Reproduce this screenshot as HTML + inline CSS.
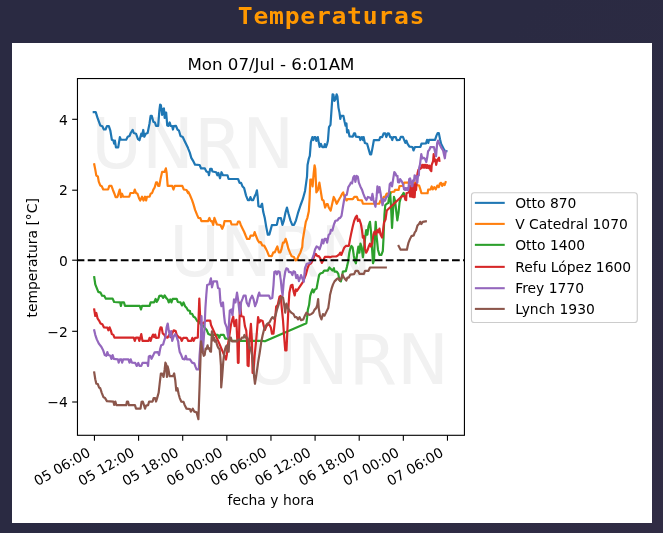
<!DOCTYPE html>
<html lang="es"><head><meta charset="utf-8"><title>Temperaturas</title>
<style>
html,body{margin:0;padding:0}
body{width:663px;height:533px;overflow:hidden;background:linear-gradient(135deg,#2a2a42 0%,#2a2a42 45%,#302c44 100%);font-family:"DejaVu Sans","Liberation Sans",sans-serif}
h1{position:absolute;left:0;top:0;width:663px;margin:0;text-align:center;font-family:"DejaVu Sans Mono","Liberation Mono",monospace;font-weight:bold;font-size:24px;line-height:32px;letter-spacing:0.7px;color:#ff9800;transform:scale(1.03,0.94);transform-origin:331.5px 24px}
#fig{position:absolute;left:12px;top:43px;width:640px;height:480px;background:#fff}
svg{display:block}
svg text{font-family:"DejaVu Sans","Liberation Sans",sans-serif;font-size:13.89px;fill:#000}
</style></head><body>
<h1>Temperaturas</h1>
<div id="fig"><svg width="640" height="480" viewBox="12 43 640 480">
<rect x="12" y="43" width="640" height="480" fill="#fff"/>
<text x="91.3" y="167.9" style="font-size:69.44px;fill:#f1f1f1">UNRN</text>
<text x="169.2" y="276.2" style="font-size:69.44px;fill:#f1f1f1">UNRN</text>
<text x="246.0" y="383.5" style="font-size:69.44px;fill:#f1f1f1">UNRN</text>
<line x1="94.45" y1="435.3" x2="94.45" y2="440.70" stroke="#000" stroke-width="1.11"/><text transform="translate(91.35,455.3) rotate(-30)" text-anchor="end">05 06:00</text>
<line x1="138.58" y1="435.3" x2="138.58" y2="440.70" stroke="#000" stroke-width="1.11"/><text transform="translate(135.48,455.3) rotate(-30)" text-anchor="end">05 12:00</text>
<line x1="182.70" y1="435.3" x2="182.70" y2="440.70" stroke="#000" stroke-width="1.11"/><text transform="translate(179.60,455.3) rotate(-30)" text-anchor="end">05 18:00</text>
<line x1="226.83" y1="435.3" x2="226.83" y2="440.70" stroke="#000" stroke-width="1.11"/><text transform="translate(223.73,455.3) rotate(-30)" text-anchor="end">06 00:00</text>
<line x1="270.96" y1="435.3" x2="270.96" y2="440.70" stroke="#000" stroke-width="1.11"/><text transform="translate(267.86,455.3) rotate(-30)" text-anchor="end">06 06:00</text>
<line x1="315.09" y1="435.3" x2="315.09" y2="440.70" stroke="#000" stroke-width="1.11"/><text transform="translate(311.99,455.3) rotate(-30)" text-anchor="end">06 12:00</text>
<line x1="359.21" y1="435.3" x2="359.21" y2="440.70" stroke="#000" stroke-width="1.11"/><text transform="translate(356.11,455.3) rotate(-30)" text-anchor="end">06 18:00</text>
<line x1="403.34" y1="435.3" x2="403.34" y2="440.70" stroke="#000" stroke-width="1.11"/><text transform="translate(400.24,455.3) rotate(-30)" text-anchor="end">07 00:00</text>
<line x1="447.47" y1="435.3" x2="447.47" y2="440.70" stroke="#000" stroke-width="1.11"/><text transform="translate(444.37,455.3) rotate(-30)" text-anchor="end">07 06:00</text>
<line x1="77.47" y1="119.30" x2="72.17" y2="119.30" stroke="#000" stroke-width="1.11"/><text x="67.75" y="124.80" text-anchor="end">4</text>
<line x1="77.47" y1="190.20" x2="72.17" y2="190.20" stroke="#000" stroke-width="1.11"/><text x="67.75" y="195.00" text-anchor="end">2</text>
<line x1="77.47" y1="260.20" x2="72.17" y2="260.20" stroke="#000" stroke-width="1.11"/><text x="67.75" y="265.70" text-anchor="end">0</text>
<line x1="77.47" y1="331.30" x2="72.17" y2="331.30" stroke="#000" stroke-width="1.11"/><text x="67.75" y="336.80" text-anchor="end">−2</text>
<line x1="77.47" y1="402.00" x2="72.17" y2="402.00" stroke="#000" stroke-width="1.11"/><text x="67.75" y="406.90" text-anchor="end">−4</text>
<clipPath id="c"><rect x="77.47" y="78.55" width="386.96" height="356.75"/></clipPath>
<g clip-path="url(#c)" fill="none" stroke-width="2.2" stroke-linejoin="round" stroke-linecap="square">
<polyline stroke="#1f77b4" points="93.77,112.17 95.73,112.17 97.54,117.90 100.26,125.44 102.37,126.20 103.88,129.52 105.54,129.52 106.89,126.20 108.85,126.20 110.36,130.72 111.87,139.77 113.38,140.53 114.13,143.54 114.89,140.53 115.94,147.32 118.21,147.32 119.86,137.06 120.92,139.77 126.20,139.77 127.71,136.76 129.52,136.00 130.72,132.99 132.68,129.97 133.74,132.99 136.00,133.74 137.96,139.02 139.47,140.23 141.28,133.74 142.04,136.00 143.24,129.97 144.30,136.76 145.81,133.74 147.62,132.99 149.58,123.18 150.63,115.94 151.84,115.94 153.35,121.67 154.86,122.43 156.06,125.90 158.17,125.90 159.38,110.36 160.14,104.63 160.89,105.08 162.10,114.89 163.15,108.85 163.91,108.40 164.66,117.90 165.41,112.62 166.17,112.62 167.22,125.44 168.43,125.90 169.64,122.43 170.69,125.90 172.20,126.20 172.96,129.52 173.71,126.20 175.97,125.90 177.48,129.52 178.99,130.72 180.50,136.00 182.76,137.06 184.72,141.28 188.04,148.07 188.30,148.85 189.80,152.62 191.31,157.90 193.57,161.67 195.08,164.69 199.61,164.99 201.12,168.46 204.89,168.46 206.40,171.48 208.21,172.23 208.96,175.25 210.17,168.91 211.67,168.91 212.43,171.48 216.20,172.23 217.41,175.25 218.46,172.99 219.97,178.27 221.48,172.23 222.99,175.25 227.51,175.25 228.57,179.02 238.07,179.02 239.58,182.79 241.09,182.79 242.59,186.56 244.10,188.07 246.06,195.61 247.87,200.14 249.38,200.14 250.44,197.12 251.64,200.14 253.15,200.14 254.66,196.37 255.87,194.10 256.92,190.33 257.68,196.37 258.43,206.17 260.69,206.92 261.90,203.91 262.07,203.74 263.27,212.04 264.78,218.07 266.29,227.12 267.80,234.66 269.31,234.66 270.36,230.89 271.87,225.16 276.85,224.86 278.36,218.07 280.92,218.07 282.43,224.86 283.94,220.33 285.44,212.79 286.95,207.51 288.46,213.54 290.42,220.33 292.23,224.86 294.04,224.86 296.00,220.33 298.27,212.04 300.53,205.25 302.79,199.22 305.05,190.92 307.01,176.59 307.54,164.94 308.75,158.91 309.80,155.89 310.86,142.32 312.37,137.04 313.27,140.05 314.33,137.04 315.38,137.04 316.29,140.81 317.80,137.04 318.85,143.07 319.61,146.84 320.81,143.82 322.32,147.14 324.13,147.14 324.89,144.13 325.94,147.14 327.15,143.82 327.90,140.81 328.96,127.23 330.47,124.97 331.67,107.62 332.58,94.35 333.48,94.80 334.39,100.84 335.44,99.33 336.65,94.35 337.41,96.31 338.46,107.62 339.52,112.90 340.27,118.94 341.03,115.92 343.44,115.92 344.49,121.20 345.55,125.72 346.46,123.46 347.06,132.51 348.27,130.25 349.47,136.28 352.79,136.58 354.00,133.27 355.05,133.27 355.81,136.58 359.58,137.04 360.33,140.05 361.84,137.04 363.05,140.05 363.65,137.04 364.86,143.07 367.12,143.82 368.63,149.10 370.14,154.38 371.19,154.38 372.40,148.35 373.91,140.05 379.19,140.05 380.24,137.04 382.20,137.04 383.71,133.27 385.22,133.27 386.27,137.04 387.78,133.27 388.99,133.57 390.20,137.04 391.25,137.04 392.31,140.05 393.21,137.04 395.78,137.04 396.83,140.05 399.61,139.89 400.81,136.87 402.93,136.87 404.13,139.89 405.34,142.90 406.40,140.64 407.45,143.66 409.41,146.67 412.43,146.98 413.48,150.44 414.99,146.98 420.42,146.98 421.48,143.66 426.00,143.36 427.06,139.89 428.27,142.90 429.02,139.89 435.05,139.89 436.56,135.36 437.62,133.10 438.82,133.10 440.03,139.13 441.09,143.66 442.59,146.67 444.10,149.69 445.16,151.20 446.37,151.20"/>
<polyline stroke="#ff7f0e" points="94.22,164.33 95.28,169.61 96.33,175.64 97.84,176.40 98.75,181.67 100.26,185.44 101.76,186.20 103.27,189.52 108.10,189.52 109.31,185.90 111.42,185.90 112.93,189.97 114.43,193.74 115.64,197.06 117.45,197.06 118.66,192.99 119.71,189.52 120.92,197.06 121.98,193.74 123.18,196.76 129.22,196.76 130.42,192.99 133.74,192.99 134.80,189.52 136.00,192.99 137.51,193.74 139.02,198.27 140.23,200.53 142.04,196.76 143.54,200.53 145.05,196.76 146.11,200.53 147.01,196.76 149.58,196.76 150.63,193.74 152.14,192.99 153.35,189.52 154.56,187.71 156.06,182.43 157.12,182.43 158.17,185.90 159.38,185.90 160.59,178.66 162.10,171.87 164.66,171.87 165.87,168.40 166.62,172.62 167.68,185.90 172.20,185.90 173.41,189.52 174.77,185.90 182.31,185.90 183.82,189.52 186.53,189.97 188.04,192.99 188.30,191.79 189.80,194.80 192.07,200.08 193.57,204.61 195.08,209.89 196.89,214.41 198.40,217.88 200.36,218.18 201.42,221.20 207.90,221.20 209.41,217.88 210.62,221.20 211.98,221.20 213.18,224.97 214.39,217.88 215.75,221.50 216.95,224.52 220.42,224.97 222.23,228.74 223.74,224.97 224.49,221.20 230.53,221.20 231.58,224.52 237.01,224.52 238.07,221.50 239.58,221.50 240.78,224.97 242.59,228.74 244.10,231.76 245.61,235.53 247.12,239.00 249.38,239.00 250.59,235.53 253.60,235.53 254.66,232.06 256.17,236.28 257.68,240.05 259.19,242.32 260.69,242.01 262.20,245.33 264.16,245.63 265.67,248.35 267.18,251.37 268.99,255.89 271.25,256.19 271.76,256.20 273.27,252.43 274.78,252.43 276.29,248.66 277.35,246.40 278.85,252.43 280.36,252.43 281.42,249.41 282.93,242.62 284.13,242.62 285.64,238.85 286.85,242.62 288.36,248.66 290.17,253.18 291.67,256.20 293.94,256.95 295.44,260.42 296.95,259.97 298.46,256.20 300.42,252.43 302.23,247.15 302.79,239.94 304.30,230.89 305.81,221.84 307.32,218.07 308.82,211.28 309.58,199.22 310.33,179.61 311.54,179.61 312.59,186.40 313.65,173.57 314.56,165.28 315.31,169.05 316.37,192.43 317.87,190.17 319.38,182.62 320.59,190.17 322.10,199.52 323.60,200.72 325.11,207.51 326.62,204.04 327.68,204.04 328.73,207.51 330.69,210.53 332.20,203.74 333.71,196.95 335.22,199.97 336.73,203.74 338.99,199.52 340.50,196.95 342.01,193.94 343.21,192.43 344.27,196.20 346.53,200.42 347.54,199.22 352.82,199.22 354.33,196.95 356.89,196.95 358.10,199.97 361.87,200.42 362.93,203.74 366.40,203.74 379.22,203.74 380.42,200.72 382.23,200.72 383.74,196.95 385.25,196.95 386.76,193.48 390.53,193.48 391.58,191.98 394.30,191.67 395.00,189.91 398.62,189.91 399.52,185.99 402.84,185.99 404.05,182.67 407.97,182.67 414.91,182.79 417.02,185.08 419.13,185.51 420.34,189.31 421.43,193.23 427.58,193.23 428.18,189.61 430.29,189.31 430.50,189.41 431.70,186.40 432.76,189.41 434.27,187.15 435.78,189.41 437.29,185.64 438.79,187.15 440.00,183.38 441.09,182.87 442.14,185.89 443.35,183.63 444.56,185.14 445.61,182.12"/>
<polyline stroke="#2ca02c" points="94.22,277.24 95.28,284.33 96.79,288.10 98.30,291.87 100.56,292.62 102.07,295.64 104.33,295.94 105.84,298.66 112.62,298.66 114.13,301.98 120.17,302.43 120.92,305.90 121.67,302.43 123.94,302.43 124.99,305.90 139.77,305.90 140.98,309.52 142.04,305.90 149.58,305.90 150.63,302.43 154.10,302.43 155.61,298.96 156.67,301.98 158.17,299.41 159.38,295.94 161.64,295.64 163.15,297.90 164.66,295.34 166.17,297.90 167.68,299.41 168.73,302.43 170.24,299.41 171.45,302.43 172.65,298.96 176.73,298.96 177.78,301.98 180.50,302.43 182.01,305.44 183.51,302.43 185.02,306.20 186.53,307.71 188.04,310.42 190.00,311.03 190.26,313.74 192.07,313.74 193.57,316.76 195.08,317.51 197.35,321.28 199.61,322.04 201.12,325.05 203.38,325.81 204.89,328.07 206.85,330.33 208.36,334.10 210.17,334.86 217.71,334.86 219.22,337.87 220.42,334.86 223.74,334.86 225.25,338.63 229.77,338.63 231.28,340.89 262.20,340.89 264.89,341.28 306.37,323.18 307.12,317.15 307.87,309.61 309.08,305.08 310.14,296.03 311.28,292.40 312.49,289.38 313.54,292.40 315.05,289.38 316.56,288.63 318.07,280.33 319.13,275.05 320.33,273.54 322.59,272.79 324.10,270.53 327.87,270.53 329.38,267.51 330.89,269.02 332.40,270.53 333.91,268.27 334.52,271.56 336.79,271.56 338.30,273.82 339.35,279.86 340.86,281.37 342.07,276.84 342.82,271.56 345.84,271.11 346.89,267.04 348.10,261.76 349.31,252.71 350.36,248.18 351.42,245.92 352.62,247.43 353.83,255.72 354.89,261.00 355.94,263.27 357.15,254.22 358.36,246.67 359.41,252.71 360.47,243.66 361.67,247.43 362.88,257.23 363.94,249.69 364.99,239.13 366.20,230.08 367.41,234.61 368.46,226.31 369.97,221.79 371.03,231.59 371.93,246.67 372.99,263.27 374.04,260.25 374.95,234.61 375.70,221.79 376.76,237.62 377.96,249.69 379.47,254.97 381.28,254.97 382.79,251.20 383.54,237.62 383.74,230.89 384.49,214.30 385.25,205.25 386.76,203.74 388.27,202.99 389.47,194.69 390.08,192.43 390.98,205.25 392.04,227.87 393.09,209.77 394.00,196.95 395.05,200.72 396.11,209.77 397.32,220.33 398.52,212.79 399.58,202.23 401.09,196.95 402.59,194.69 403.65,192.88 404.56,195.44"/>
<polyline stroke="#d62728" points="94.22,309.52 95.28,316.00 96.33,312.99 97.54,318.27 99.05,320.53 100.56,323.54 102.37,324.30 103.88,327.32 107.35,327.62 108.40,330.33 109.61,327.32 110.81,330.33 111.87,334.10 113.38,334.86 114.43,337.57 133.74,337.57 134.80,340.89 136.00,337.57 138.27,337.57 139.32,340.89 140.23,337.87 141.28,334.10 142.49,340.89 148.52,340.89 149.58,337.87 150.63,340.89 151.84,337.12 153.05,334.56 154.10,337.12 155.16,334.56 156.06,337.87 158.63,337.57 159.68,330.33 160.59,327.32 161.64,327.62 162.70,333.35 164.21,334.56 165.41,337.12 167.68,337.57 169.19,334.86 170.69,337.12 172.20,333.35 173.71,330.33 175.67,331.09 176.73,334.86 178.99,337.57 180.50,337.57 181.70,340.89 183.21,337.87 185.78,337.87 186.79,337.87 188.30,340.89 191.31,340.89 192.37,337.87 193.57,340.89 195.08,337.87 197.80,337.57 198.40,322.79 199.31,298.66 200.06,315.25 201.12,322.79 203.38,323.54 204.89,321.28 207.15,320.53 210.17,320.53 211.00,325.00 219.10,343.10 226.00,359.50 226.80,354.90 228.20,343.10 229.60,334.00 230.90,325.00 232.00,320.50 233.20,316.70 234.50,326.20 236.30,319.90 237.30,340.00 237.90,362.80 238.60,362.80 239.20,330.00 240.00,302.70 241.30,316.20 243.60,316.80 244.90,326.20 246.30,330.70 247.20,345.00 247.60,365.50 248.60,366.00 249.50,340.00 250.90,323.90 251.80,338.00 252.60,373.00 253.40,372.00 254.70,355.00 256.20,340.00 256.90,332.00 258.10,317.10 259.31,322.43 260.81,320.17 262.62,320.92 263.83,326.20 264.89,329.97 266.40,326.20 268.36,323.94 269.86,325.44 270.92,327.71 271.98,333.74 273.48,333.74 274.99,320.17 276.20,306.59 277.71,305.08 279.52,296.79 280.72,296.03 281.93,309.61 282.99,320.17 284.04,335.25 285.25,350.33 286.46,350.33 287.51,327.71 288.57,305.08 289.41,292.40 290.92,285.61 292.43,284.86 293.48,290.89 294.69,295.41 295.90,289.38 296.95,290.89 298.46,288.63 299.97,286.37 301.48,284.10 302.99,281.84 304.49,278.07 306.00,274.30 307.51,268.27 309.02,264.49 311.28,262.99 312.79,259.97 314.30,256.20 315.81,253.94 317.32,256.20 318.82,256.20 320.33,258.46 321.84,262.99 323.35,259.97 324.86,256.95 327.87,256.95 329.38,256.95 330.00,257.23 332.26,256.48 336.03,256.48 337.54,255.72 339.05,254.52 340.26,252.71 341.31,254.97 342.82,251.20 344.33,247.43 345.84,245.92 348.85,245.92 349.91,239.89 351.12,233.85 352.62,227.07 354.13,221.03 355.64,217.26 356.85,215.75 357.90,221.03 359.41,219.52 360.92,224.05 361.98,230.08 362.88,237.62 363.94,236.12 364.99,248.18 366.20,252.71 367.71,249.69 368.91,245.92 369.97,243.66 371.03,246.67 372.23,243.66 373.44,234.61 374.49,231.59 376.00,234.61 377.06,230.08 378.27,232.35 379.47,228.57 380.53,234.61 382.04,237.62 383.09,230.08 384.00,222.54 385.51,219.52 386.76,210.53 400.33,197.71 402.84,195.94 404.65,196.55 405.26,199.56 406.16,200.17 406.46,193.23 408.88,192.32 409.48,185.69 410.08,196.55 410.81,185.69 411.59,196.55 412.50,185.08 413.10,197.15 414.00,184.48 414.61,197.15 415.51,184.18 416.12,189.91 416.72,179.05 417.62,173.02 418.43,169.80 419.94,169.05 420.90,168.40 422.20,164.80 423.10,167.80 424.00,164.80 424.90,167.80 425.80,164.80 426.70,168.00 427.60,165.20 428.50,168.20 429.50,165.70 430.40,170.00 431.30,171.20 431.70,164.80 433.10,161.20 433.70,154.00 434.40,161.20 435.30,159.40 436.20,164.80 437.10,160.30 439.00,157.60 439.40,160.70"/>
<polyline stroke="#9467bd" points="94.22,330.33 95.28,334.86 96.79,339.38 99.05,343.91 101.31,346.79 103.27,350.56 104.78,355.08 106.29,355.84 107.35,352.07 108.40,355.08 110.36,355.84 111.42,358.85 112.62,355.08 113.83,358.85 117.90,359.31 118.66,362.62 119.86,359.31 121.37,359.31 122.13,362.62 123.18,359.31 128.46,359.31 129.52,362.62 130.72,359.31 131.93,362.62 135.25,362.93 136.76,365.94 138.27,362.93 139.47,365.94 141.28,365.94 142.49,362.93 147.32,362.93 148.07,365.94 148.82,356.59 150.33,355.84 151.54,358.85 153.35,355.08 154.56,352.37 157.87,352.07 159.08,355.08 160.14,349.05 161.19,345.28 163.15,344.52 163.91,341.64 165.41,337.12 166.62,327.32 167.68,323.54 168.73,330.33 169.94,336.37 171.15,331.09 172.20,340.89 173.71,336.37 175.22,334.10 176.73,337.12 178.24,341.64 178.69,346.03 179.74,352.07 181.25,355.08 182.76,358.85 184.72,359.31 185.78,355.84 186.83,359.31 190.00,359.31 192.07,362.62 194.33,363.38 195.38,366.40 196.59,369.41 198.85,369.41 199.61,355.08 200.81,340.00 201.50,316.20 202.10,335.00 202.80,352.00 203.60,341.00 204.60,327.00 205.40,308.00 206.30,295.00 207.15,285.08 209.41,284.33 210.92,278.30 211.98,287.35 213.48,281.31 216.95,281.31 218.01,288.10 219.52,288.85 220.42,301.67 221.48,306.20 222.99,302.43 224.04,315.25 224.95,322.79 226.76,327.32 228.27,337.87 229.02,322.79 229.77,310.72 231.28,309.52 232.49,315.25 234.00,299.41 235.51,302.43 237.01,292.62 238.07,299.41 239.13,309.22 240.03,313.74 241.09,302.43 242.59,298.66 243.65,295.64 245.61,295.64 246.67,302.43 248.63,306.20 250.14,299.41 252.10,295.64 253.60,299.41 255.11,306.20 256.62,302.43 258.13,295.64 259.19,292.62 259.94,295.64 268.99,295.64 270.20,298.66 272.31,297.90 273.51,285.08 274.33,272.04 275.84,271.28 276.89,274.30 278.10,271.28 279.61,272.04 280.81,280.33 281.87,290.89 282.62,295.41 283.83,280.33 285.34,271.28 286.40,268.27 287.90,269.02 288.96,272.04 290.92,272.04 292.43,275.05 293.48,271.28 294.99,272.04 296.20,278.07 297.41,275.05 298.91,281.09 299.97,278.07 301.03,275.05 302.23,278.07 303.74,281.84 304.95,268.27 306.76,263.74 309.77,262.99 312.04,259.22 313.54,255.44 315.05,249.41 316.56,246.40 318.07,247.15 319.58,249.41 321.09,244.89 322.14,239.61 323.35,243.38 324.56,238.85 326.06,238.85 327.12,242.62 328.63,235.08 330.14,233.57 330.89,229.80 332.40,230.56 333.91,224.52 335.41,220.75 337.48,220.33 338.99,218.07 340.00,218.07 341.51,215.81 342.71,208.27 344.22,199.22 345.28,195.44 346.79,194.69 348.30,187.15 349.80,184.89 350.86,182.62 352.07,183.38 353.27,177.35 354.33,175.84 355.38,181.87 356.59,175.84 357.80,176.59 358.85,182.62 360.36,186.40 361.87,189.41 363.38,193.94 364.89,197.71 366.40,199.97 367.90,196.95 370.17,197.71 371.37,199.97 372.43,193.94 373.48,199.97 375.44,206.76 376.65,196.20 377.41,186.40 378.46,192.43 379.52,187.15 380.42,192.43 381.48,199.22 382.53,205.25 383.74,199.22 384.95,200.72 386.46,196.95 387.96,196.20 389.02,192.43 389.77,184.13 390.98,182.62 392.04,186.40 393.09,179.61 394.30,172.07 395.60,173.62 396.21,175.73 397.41,175.73 398.02,182.07 399.22,182.37 400.13,179.05 401.64,181.16 403.14,184.48 404.05,189.31 404.95,189.79 405.56,188.10 406.16,189.91 407.07,188.10 407.97,190.21 408.57,188.10 409.18,179.05 410.08,178.45 410.81,181.16 411.59,186.17 412.38,186.17 413.10,180.26 414.00,180.86 414.61,175.43 415.51,175.73 416.42,178.45 417.32,182.67 417.93,176.03 418.83,175.43 419.19,167.54 419.95,164.82 421.31,154.14 422.22,158.48 423.57,157.76 424.93,158.67 426.29,162.10 427.19,157.58 428.10,151.24 429.46,149.62 430.36,147.17 433.98,147.17 434.89,151.24 436.06,156.22 437.15,143.10 438.05,140.57 438.96,143.10 440.32,145.81 441.22,147.62 443.03,150.34 444.84,158.30 445.75,151.24"/>
<polyline stroke="#8c564b" points="94.22,372.43 95.28,379.22 96.33,383.74 97.84,384.04 99.05,387.51 100.26,388.27 101.76,392.79 103.57,397.32 105.08,398.07 106.89,401.09 113.38,401.54 114.13,404.86 115.34,401.54 116.40,405.16 126.20,405.16 126.95,401.54 128.01,401.54 128.91,405.16 134.95,405.16 136.00,408.63 140.53,408.63 141.58,401.84 142.79,401.54 144.00,405.16 145.05,408.63 146.11,405.61 148.07,405.16 149.13,401.54 152.59,401.54 153.65,398.07 155.16,398.07 156.06,401.54 157.12,398.07 158.63,392.79 159.68,383.74 160.89,373.48 162.10,373.48 163.60,376.95 164.66,369.41 165.41,362.62 166.17,364.13 166.92,376.95 167.68,366.40 168.43,369.41 169.64,376.20 172.96,376.20 174.16,373.48 175.22,379.97 176.27,390.53 177.48,388.27 178.69,394.30 179.74,398.07 181.25,401.54 183.51,401.84 184.72,405.16 186.53,408.63 190.00,409.08 190.86,411.64 192.82,408.63 194.33,411.64 196.59,412.40 198.40,419.19 199.61,385.25 200.81,349.05 201.05,341.29 201.95,347.62 202.86,352.15 203.76,355.77 204.67,354.86 205.57,348.53 206.48,348.98 207.57,345.36 208.29,348.53 209.19,348.08 210.10,351.24 211.00,351.70 211.46,341.29 211.91,331.33 212.63,334.05 213.27,340.38 214.17,337.67 215.08,341.74 215.98,340.38 216.89,344.46 217.79,346.72 218.70,348.53 219.60,348.98 220.24,355.77 220.96,365.72 221.20,387.50 222.20,376.20 223.30,361.50 224.13,353.96 225.03,349.43 225.94,346.72 226.84,345.36 227.75,351.24 228.65,351.70 229.10,343.10 229.56,337.67 230.91,337.67 231.82,341.29 237.25,341.29 238.15,339.48 240.87,339.48 241.77,337.67 243.58,337.67 244.49,334.95 245.39,337.67 247.20,337.67 248.56,340.38 249.47,348.53 250.37,347.62 252.10,355.08 253.15,365.64 254.21,377.71 254.96,383.74 256.17,376.20 257.68,365.64 258.10,362.40 259.61,353.35 261.12,342.79 262.62,335.25 264.13,329.22 265.64,326.20 267.15,323.94 269.41,322.43 270.92,319.41 272.43,317.15 273.94,318.66 275.44,315.64 276.95,309.61 278.46,305.08 279.97,299.80 281.48,296.79 282.99,297.54 284.04,303.57 285.25,312.62 286.46,303.57 287.96,308.10 289.77,311.12 291.28,312.62 293.54,314.13 295.05,317.15 296.56,317.15 298.07,319.41 299.58,317.15 301.09,320.17 303.35,319.41 304.86,315.64 306.37,312.62 307.87,314.13 309.68,314.89 311.19,314.13 313.15,312.62 314.66,309.61 316.17,308.10 317.22,305.08 318.13,299.05 318.73,308.10 319.94,315.64 321.45,319.41 322.96,314.13 324.46,315.64 326.73,311.12 328.24,308.10 329.74,297.54 330.00,294.94 331.51,288.91 333.02,284.38 334.52,281.37 336.79,279.10 338.30,278.35 339.80,280.61 341.31,278.35 342.37,274.58 343.57,276.84 345.08,279.10 346.29,280.61 347.35,277.59 348.85,277.59 350.36,274.58 354.13,274.13 355.64,270.81 357.90,270.81 359.41,273.82 363.94,273.82 364.99,270.81 368.46,270.81 369.97,267.49 385.81,267.49"/>
<polyline stroke="#8c564b" points="398.63,245.92 400.59,249.69 406.92,249.69 407.68,245.92 408.43,242.90 409.94,239.13 411.45,236.12 413.71,235.36 414.77,232.35 415.97,230.84 417.48,225.56 418.99,224.05 420.20,221.79 421.25,224.05 422.76,221.79 425.78,221.33"/>
<line x1="77.47" y1="260.18" x2="464.43" y2="260.18" stroke="#000" stroke-width="2.08" stroke-dasharray="7.71 3.33" stroke-dashoffset="0.8" stroke-linecap="butt"/>
</g>
<rect x="77.47" y="78.55" width="386.96" height="356.75" fill="none" stroke="#000" stroke-width="1.11"/>
<text x="270.95" y="70.2" text-anchor="middle" style="font-size:16.67px">Mon 07/Jul - 6:01AM</text>
<text x="270.95" y="504.5" text-anchor="middle">fecha y hora</text>
<text transform="translate(37.0,257.82) rotate(-90)" text-anchor="middle">temperatura [°C]</text>
<rect x="471.47" y="192.8" width="165.8" height="129.7" rx="2.8" ry="2.8" fill="#fff" fill-opacity="0.8" stroke="#cccccc" stroke-width="1.11"/>
<line x1="475.9" y1="202.87" x2="503.7" y2="202.87" stroke="#1f77b4" stroke-width="2.08" stroke-linecap="square"/><text x="515.2" y="207.73">Otto 870</text>
<line x1="475.9" y1="223.90" x2="503.7" y2="223.90" stroke="#ff7f0e" stroke-width="2.08" stroke-linecap="square"/><text x="515.2" y="228.76">V Catedral 1070</text>
<line x1="475.9" y1="244.85" x2="503.7" y2="244.85" stroke="#2ca02c" stroke-width="2.08" stroke-linecap="square"/><text x="515.2" y="249.71">Otto 1400</text>
<line x1="475.9" y1="266.86" x2="503.7" y2="266.86" stroke="#d62728" stroke-width="2.08" stroke-linecap="square"/><text x="515.2" y="271.72">Refu López 1600</text>
<line x1="475.9" y1="288.20" x2="503.7" y2="288.20" stroke="#9467bd" stroke-width="2.08" stroke-linecap="square"/><text x="515.2" y="293.06">Frey 1770</text>
<line x1="475.9" y1="308.90" x2="503.7" y2="308.90" stroke="#8c564b" stroke-width="2.08" stroke-linecap="square"/><text x="515.2" y="313.76">Lynch 1930</text>
</svg></div>
</body></html>
